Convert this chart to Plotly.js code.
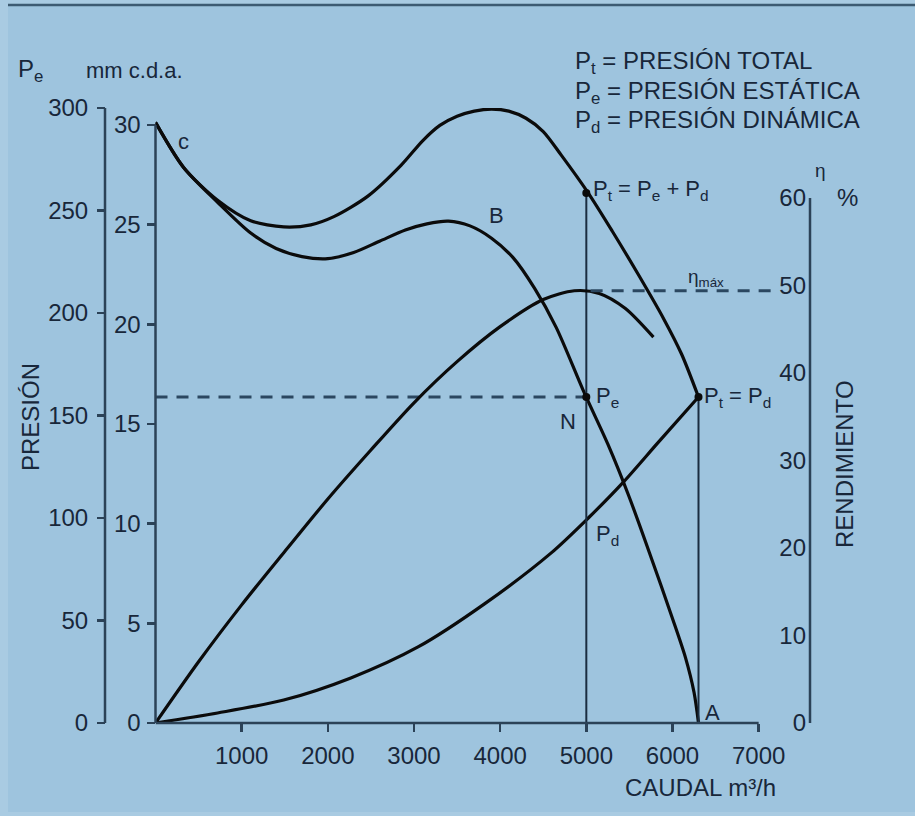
<!DOCTYPE html>
<html><head><meta charset="utf-8">
<script src="https://cdn.plot.ly/plotly-3.0.1.min.js"></script>
<style>html,body{margin:0;padding:0;background:#9ec4de;}#chart{width:915px;height:816px;}</style>
</head><body><div id="chart"></div>
<script>
// ---- data ----
const caudalPt = [0,326,721,1105,1488,1802,2070,2465,2849,3100,3300,3500,3700,3900,4100,4300,4500,4709,5023,5300,5600,5900,6105,6302];
const presionTotal = [293,271,255,245,242,243,247,257,272,284,291.5,296,298.5,299.5,298.5,295,288.5,277,258.5,240,219,197,180,159];
const caudalPe = [0,326,721,1105,1400,1700,2000,2300,2600,2900,3150,3400,3650,3900,4150,4400,4650,4977,5250,5500,5750,6000,6150,6250,6302];
const presionEstatica = [293,271,254,239,231.5,227.5,226.5,229.5,235,240.5,243.5,244.8,242.5,236.5,227,212,193,161,136,110,81,51,32,15,0];
const caudalPd = [0,721,1488,2267,3047,3814,4593,5023,5430,5837,6302];
const presionDinamica = [0,4.9,11.2,22,37.1,58,83,100,117.5,137,159];
const caudalEta = [0,500,1000,1500,2000,2500,3000,3500,4000,4500,4860,5150,5450,5779];
const rendimiento = [0,7.0,13.5,19.6,25.6,31.2,36.6,41.3,45.3,48.4,49.4,49.1,47.4,44.1];
const caudalN = [5000];          // operating point N
const ptN = [258.5];             // Pt = Pe + Pd at N
const peN = [159];               // Pe at N
const caudalA = [6302];          // free delivery A
const ptA = [159];               // Pt = Pd at A
const etaMax = [49.4];
const etaMaxSpan = [5050, 7200];
const xTicks = [1000,2000,3000,4000,5000,6000,7000];
const pTicks = [0,50,100,150,200,250,300];
const pTicksInner = [0,5,10,15,20,25,30];
const etaTicks = [0,10,20,30,40,50,60];

// ---- layout helpers ----
const W = 915, H = 816;
const px = v => v / W, py = v => 1 - v / H;
const TXT = '#18273a', AX = '#2b4257', FONT = 'Liberation Sans, Arial, sans-serif';
const FS = 24;
const dom = [py(723), py(108)];

const curve = {color:'#0b0b0b', width:3.2, shape:'spline', smoothing:0.8};
const traces = [
  {x:caudalPt, y:presionTotal, yaxis:'y2', mode:'lines', line:curve},
  {x:caudalPe, y:presionEstatica, yaxis:'y2', mode:'lines', line:curve},
  {x:caudalPd, y:presionDinamica, yaxis:'y2', mode:'lines', line:curve},
  {x:caudalEta, y:rendimiento, yaxis:'y3', mode:'lines', line:curve},
  {x:[caudalN[0],caudalN[0]], y:[0,ptN[0]], yaxis:'y2', mode:'lines', line:{color:'#1a2d40', width:2}},
  {x:[caudalA[0],caudalA[0]], y:[0,ptA[0]], yaxis:'y2', mode:'lines', line:{color:'#1a2d40', width:2}},
  {x:[0,caudalN[0]], y:[peN[0],peN[0]], yaxis:'y2', mode:'lines', line:{color:'#2b4760', width:3, dash:'12px,9px'}},
  {x:etaMaxSpan, y:[etaMax[0],etaMax[0]], yaxis:'y3', mode:'lines', line:{color:'#2b4760', width:3, dash:'12px,9px'}},
  {x:[caudalN[0],caudalN[0],caudalA[0]], y:[ptN[0],peN[0],ptA[0]], yaxis:'y2', mode:'markers', marker:{color:'#0b0b0b', size:8}}
];

function ann(text, x, y, o) {
  return Object.assign({text, xref:'paper', yref:'paper', x:px(x), y:py(y), xanchor:'left', yanchor:'middle',
    showarrow:false, font:{family:FONT, size:FS, color:TXT}}, o || {});
}

const tickBase = {ticks:'outside', ticklen:8, tickwidth:2.5, tickcolor:AX, showline:false, showgrid:false,
  zeroline:false, tickfont:{family:FONT, size:FS, color:TXT}, tickmode:'array'};

const layout = {
  width:W, height:H, margin:{l:0,r:0,t:0,b:0}, showlegend:false,
  paper_bgcolor:'#9ec4de', plot_bgcolor:'rgba(0,0,0,0)',
  xaxis:Object.assign({}, tickBase, {domain:[px(155.5), px(810)], range:[0,7596], tickvals:xTicks, ticklabelstandoff:3}),
  yaxis:Object.assign({}, tickBase, {domain:dom, range:[0,30.85], tickvals:pTicksInner, anchor:'x', ticklabelstandoff:1}),
  yaxis2:Object.assign({}, tickBase, {domain:dom, range:[0,300], tickvals:pTicks, overlaying:'y', anchor:'free', position:px(105), side:'left', ticklabelstandoff:4}),
  yaxis3:Object.assign({}, tickBase, {domain:dom, range:[0,70.29], tickvals:etaTicks, overlaying:'y', anchor:'free', position:px(810), side:'left', ticks:'', ticklabelstandoff:4}),
  yaxis4:Object.assign({}, tickBase, {domain:dom, range:[0,70.29], tickvals:etaTicks, overlaying:'y', anchor:'x', side:'right', showticklabels:false}),
  shapes:[
    {type:'rect', xref:'paper', yref:'paper', x0:0, x1:px(8), y0:0, y1:1, fillcolor:'#a9cbe2', line:{width:0}, layer:'below'},
    {type:'rect', xref:'paper', yref:'paper', x0:0, x1:1, y0:0, y1:1-812/H, fillcolor:'#a9cbe2', line:{width:0}, layer:'below'},
    {type:'rect', xref:'paper', yref:'paper', x0:0, x1:1, y0:py(4), y1:1, fillcolor:'#a9cbe2', line:{width:0}, layer:'below'},
    {type:'line', xref:'paper', yref:'paper', x0:px(8), x1:1, y0:py(5), y1:py(5), line:{color:'#3d5b72', width:2.5}},
    {type:'line', xref:'paper', yref:'y', x0:px(155.5), x1:px(155.5), y0:0, y1:30, line:{color:AX, width:2.5}},
    {type:'line', xref:'paper', yref:'y2', x0:px(105), x1:px(105), y0:0, y1:300, line:{color:AX, width:2.5}},
    {type:'line', xref:'paper', yref:'y3', x0:px(810), x1:px(810), y0:0, y1:60, line:{color:AX, width:2.5}},
    {type:'line', xref:'x', yref:'paper', x0:0, x1:7000, y0:py(723), y1:py(723), line:{color:AX, width:2.5}}
  ],
  annotations:[
    ann('P<sub>e</sub>', 16, 70),
    ann('mm c.d.a.', 84, 70, {font:{family:FONT, size:22, color:TXT}}),
    ann('P<sub>t</sub> = PRESIÓN TOTAL', 573, 63),
    ann('P<sub>e</sub> = PRESIÓN ESTÁTICA', 573, 92),
    ann('P<sub>d</sub> = PRESIÓN DINÁMICA', 573, 121),
    ann('P<sub>t</sub> = P<sub>e</sub> + P<sub>d</sub>', 591, 190, {font:{family:FONT, size:22, color:TXT}}),
    ann('η', 813, 170, {font:{family:FONT, size:19, color:TXT}}),
    ann('%', 835, 197),
    ann('η<sub>máx</sub>', 686, 278, {font:{family:FONT, size:19, color:TXT}}),
    ann('P<sub>e</sub>', 594, 397, {font:{family:FONT, size:22, color:TXT}}),
    ann('N', 558, 421, {font:{family:FONT, size:22, color:TXT}}),
    ann('P<sub>t</sub> = P<sub>d</sub>', 702, 397, {font:{family:FONT, size:22, color:TXT}}),
    ann('P<sub>d</sub>', 594, 535, {font:{family:FONT, size:22, color:TXT}}),
    ann('A', 703, 712, {font:{family:FONT, size:22, color:TXT}}),
    ann('B', 487, 216, {font:{family:FONT, size:22, color:TXT}}),
    ann('c', 176, 141, {font:{family:FONT, size:22, color:TXT}}),
    ann('CAUDAL m³/h', 700, 787, {xanchor:'center'}),
    ann('PRESIÓN', 31, 417, {xanchor:'center', textangle:-90}),
    ann('RENDIMIENTO', 844, 464, {xanchor:'center', textangle:-90})
  ]
};

Plotly.newPlot('chart', traces, layout, {staticPlot:true, displayModeBar:false});
</script></body></html>
